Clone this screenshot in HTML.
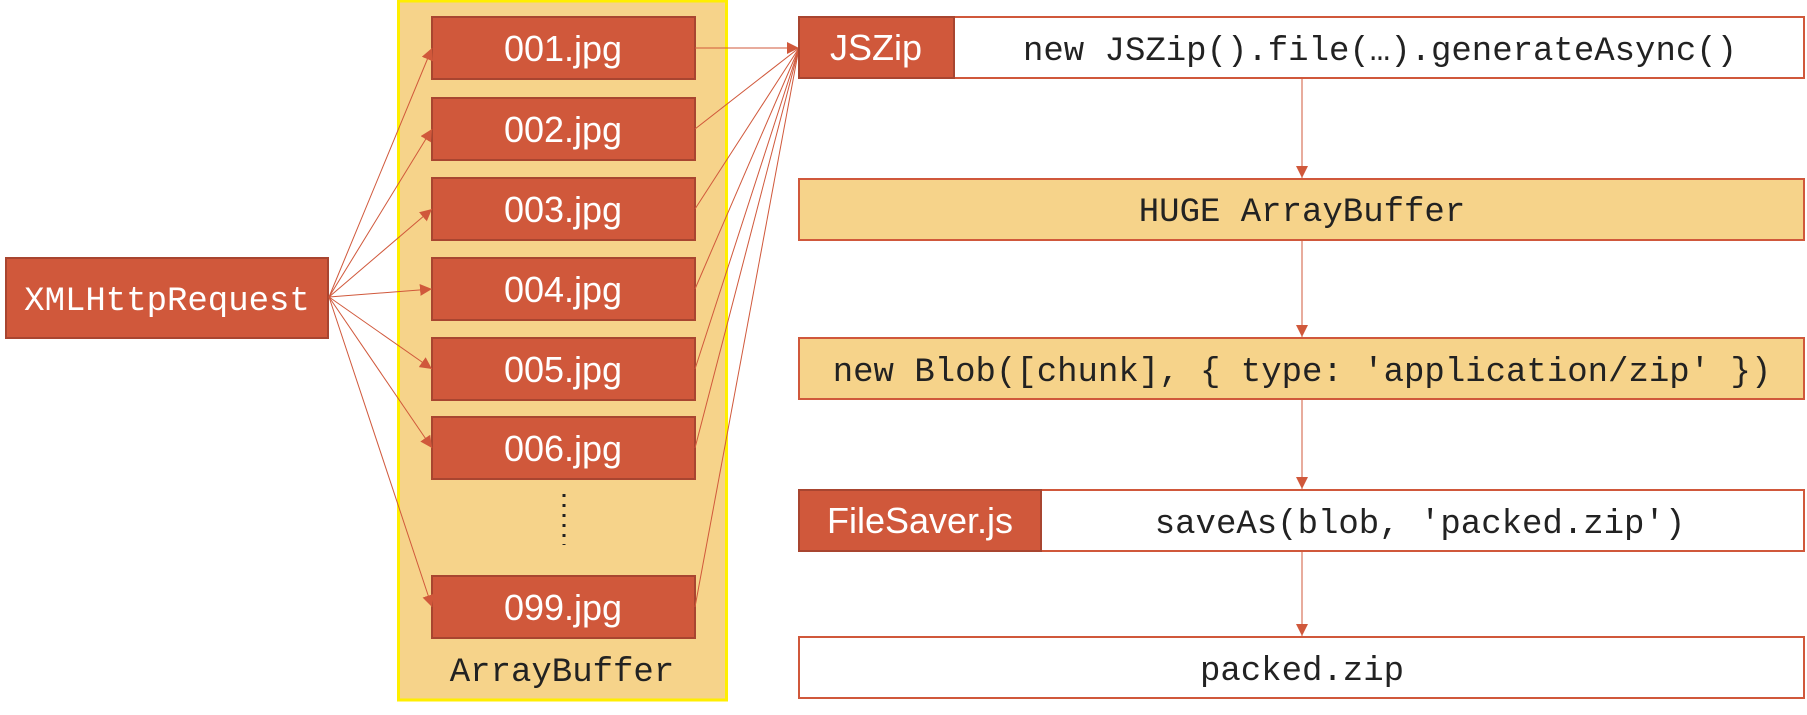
<!DOCTYPE html>
<html><head><meta charset="utf-8"><style>
html,body{margin:0;padding:0;background:#fff;}
svg{display:block;}
.s{font-family:"Liberation Sans",Arial,sans-serif;font-size:36px;fill:#fff;}
.m{font-family:"Liberation Mono","DejaVu Sans Mono",monospace;font-size:34px;fill:#222;}
</style></head><body>
<svg width="1807" height="715" viewBox="0 0 1807 715" xmlns="http://www.w3.org/2000/svg">
<defs>
<marker id="a" viewBox="0 0 10 10" refX="10" refY="5" markerWidth="12" markerHeight="12" markerUnits="userSpaceOnUse" orient="auto">
<path d="M0,0 L10,5 L0,10 z" fill="#d0583b"/></marker>
</defs>
<rect x="398.5" y="1" width="328" height="699" fill="#f6d38a" stroke="#ffee00" stroke-width="3"/>
<text x="562" y="681" class="m" text-anchor="middle">ArrayBuffer</text>
<rect x="6" y="258" width="322" height="80" fill="#d0583b" stroke="#a84530" stroke-width="2"/>
<text x="167" y="310" class="m" text-anchor="middle" style="fill:#fff">XMLHttpRequest</text>
<g stroke="#a84530" stroke-width="2" fill="#d0583b">
<rect x="432" y="17" width="263" height="62"/>
<rect x="432" y="98" width="263" height="62"/>
<rect x="432" y="178" width="263" height="62"/>
<rect x="432" y="258" width="263" height="62"/>
<rect x="432" y="338" width="263" height="62"/>
<rect x="432" y="417" width="263" height="62"/>
<rect x="432" y="576" width="263" height="62"/>
</g>
<g class="s" text-anchor="middle">
<text x="563" y="61">001.jpg</text>
<text x="563" y="142">002.jpg</text>
<text x="563" y="222">003.jpg</text>
<text x="563" y="302">004.jpg</text>
<text x="563" y="382">005.jpg</text>
<text x="563" y="461">006.jpg</text>
<text x="563" y="620">099.jpg</text>
</g>
<line x1="564" y1="494" x2="564" y2="545" stroke="#222" stroke-width="3" stroke-dasharray="3,7"/>
<g stroke="#d0583b" stroke-width="1" fill="none" marker-end="url(#a)">
<line x1="329" y1="297" x2="432" y2="48"/>
<line x1="329" y1="297" x2="432" y2="129"/>
<line x1="329" y1="297" x2="432" y2="209"/>
<line x1="329" y1="297" x2="432" y2="289"/>
<line x1="329" y1="297" x2="432" y2="369"/>
<line x1="329" y1="297" x2="432" y2="448"/>
<line x1="329" y1="297" x2="432" y2="607"/>
</g>
<g stroke="#d0583b" stroke-width="1" fill="none">
<line x1="695" y1="48" x2="799" y2="48" marker-end="url(#a)"/>
<line x1="695" y1="129" x2="799" y2="48"/>
<line x1="695" y1="209" x2="799" y2="48"/>
<line x1="695" y1="289" x2="799" y2="48"/>
<line x1="695" y1="369" x2="799" y2="48"/>
<line x1="695" y1="448" x2="799" y2="48"/>
<line x1="695" y1="607" x2="799" y2="48"/>
</g>
<rect x="799" y="17" width="1005" height="61" fill="#fff" stroke="#d0583b" stroke-width="2"/>
<rect x="799" y="17" width="155" height="61" fill="#d0583b" stroke="#a84530" stroke-width="2"/>
<text x="876" y="60" class="s" text-anchor="middle">JSZip</text>
<text x="1380" y="60" class="m" text-anchor="middle">new JSZip().file(…).generateAsync()</text>
<rect x="799" y="179" width="1005" height="61" fill="#f6d38a" stroke="#d0583b" stroke-width="2"/>
<text x="1302" y="221" class="m" text-anchor="middle">HUGE ArrayBuffer</text>
<rect x="799" y="338" width="1005" height="61" fill="#f6d38a" stroke="#d0583b" stroke-width="2"/>
<text x="1302" y="381" class="m" text-anchor="middle">new Blob([chunk], { type: 'application/zip' })</text>
<rect x="799" y="490" width="1005" height="61" fill="#fff" stroke="#d0583b" stroke-width="2"/>
<rect x="799" y="490" width="242" height="61" fill="#d0583b" stroke="#a84530" stroke-width="2"/>
<text x="920" y="533" class="s" text-anchor="middle">FileSaver.js</text>
<text x="1420" y="533" class="m" text-anchor="middle">saveAs(blob, 'packed.zip')</text>
<rect x="799" y="637" width="1005" height="61" fill="#fff" stroke="#d0583b" stroke-width="2"/>
<text x="1302" y="680" class="m" text-anchor="middle">packed.zip</text>
<g stroke="#d0583b" stroke-width="1" marker-end="url(#a)">
<line x1="1302" y1="79" x2="1302" y2="178"/>
<line x1="1302" y1="241" x2="1302" y2="337"/>
<line x1="1302" y1="400" x2="1302" y2="489"/>
<line x1="1302" y1="552" x2="1302" y2="636"/>
</g>
</svg>
</body></html>
